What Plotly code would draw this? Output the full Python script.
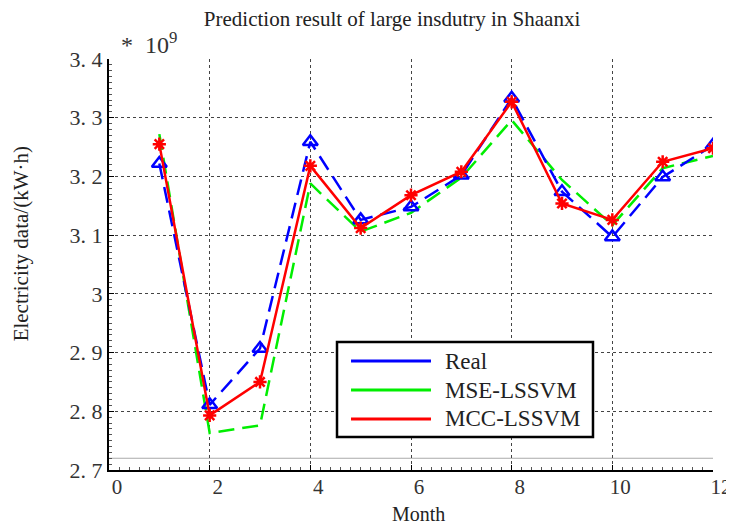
import plotly.graph_objects as go

months = [1, 2, 3, 4, 5, 6, 7, 8, 9, 10, 11, 12]
real = [3.222, 2.811, 2.907, 3.259, 3.126, 3.148, 3.202, 3.333, 3.174, 3.097, 3.199, 3.253]
mse_lssvm = [3.272, 2.763, 2.776, 3.188, 3.106, 3.138, 3.198, 3.296, 3.194, 3.117, 3.214, 3.235]
mcc_lssvm = [3.255, 2.793, 2.850, 3.218, 3.112, 3.168, 3.208, 3.327, 3.154, 3.126, 3.225, 3.248]

series_names = ["Real", "MSE-LSSVM", "MCC-LSSVM"]
series_colors = ["#0000ff", "#00ee00", "#ff0000"]

y_ticks = [2.7, 2.8, 2.9, 3.0, 3.1, 3.2, 3.3, 3.4]
y_ticktext = ["2. 7", "2. 8", "2. 9", "3", "3. 1", "3. 2", "3. 3", "3. 4"]
x_ticks = [0, 2, 4, 6, 8, 10, 12]

FONT = "Liberation Serif"
TXT = "#222222"

fig = go.Figure()
fig.add_trace(go.Scatter(x=months, y=mse_lssvm, mode="lines", name=series_names[1], showlegend=False,
                         line=dict(color=series_colors[1], width=2.5, dash="16px,8px")))
fig.add_trace(go.Scatter(x=months, y=real, mode="lines+markers", name=series_names[0], showlegend=False,
                         line=dict(color=series_colors[0], width=2.5, dash="16px,8px"),
                         marker=dict(symbol="triangle-up-open", size=13, color=series_colors[0],
                                     line=dict(width=2.5, color=series_colors[0]))))
fig.add_trace(go.Scatter(x=months, y=mcc_lssvm, mode="lines+markers", name=series_names[2], showlegend=False,
                         line=dict(color=series_colors[2], width=2.5),
                         marker=dict(symbol="asterisk-open", size=11, color=series_colors[2],
                                     line=dict(width=2.5, color=series_colors[2]))))

shapes = [dict(type="line", xref="paper", yref="y", x0=0, x1=1, y0=2.72, y1=2.72,
               line=dict(color="#aaaaaa", width=1), layer="below")]
annotations = []

# manual legend box (paper coordinates)
shapes.append(dict(type="rect", xref="paper", yref="paper", x0=0.3775, x1=0.8013, y0=0.0803, y1=0.3114,
                   line=dict(color="black", width=2.5), fillcolor="white", layer="above"))
row_y = [0.2652, 0.1946, 0.1241]
for name, col, ry in zip(series_names, series_colors, row_y):
    shapes.append(dict(type="line", xref="paper", yref="paper", x0=0.4007, x1=0.5331, y0=ry, y1=ry,
                       line=dict(color=col, width=3), layer="above"))
    annotations.append(dict(text=name, xref="paper", yref="paper", x=0.553, y=ry, xanchor="left",
                            yanchor="middle", showarrow=False, font=dict(family=FONT, size=23, color=TXT)))

annotations += [
    dict(text="*  10<sup>9</sup>", xref="paper", yref="paper", x=0.016, y=0.998,
         xanchor="left", yanchor="bottom", showarrow=False, font=dict(family=FONT, size=24, color="#333333")),
    dict(text="Electricity data/(kW·h)", xref="paper", yref="paper", x=-0.145, y=0.55, textangle=-90,
         xanchor="center", yanchor="middle", showarrow=False, font=dict(family=FONT, size=21, color=TXT)),
    dict(text="Month", xref="paper", yref="paper", x=0.513, y=-0.1363, xanchor="center", yanchor="bottom",
         showarrow=False, borderpad=0, font=dict(family=FONT, size=20, color=TXT)),
]

# page body has an 8px default margin, so the figure is sized 8px smaller
fig.update_layout(
    width=726, height=518,
    margin=dict(l=101, r=21, t=51, b=56, autoexpand=False),
    paper_bgcolor="white", plot_bgcolor="white",
    font=dict(family=FONT, color=TXT),
    showlegend=False,
    title=dict(text="Prediction result of large insdutry in Shaanxi", x=0.529, xanchor="center",
               y=0.993, yanchor="top", pad=dict(t=0, b=0),
               font=dict(family=FONT, size=21, color=TXT)),
    xaxis=dict(range=[0, 12], tickvals=x_ticks, showline=True, linecolor="black", linewidth=2,
               ticks="inside", ticklen=5, tickcolor="black", automargin=False,
               showgrid=True, gridcolor="#444444", griddash="dot", gridwidth=1,
               zeroline=False, tickfont=dict(family=FONT, size=21, color="#333333"),
               ticklabelshift=8, ticklabelstandoff=-3,
               minor=dict(ticks="inside", ticklen=3, dtick=0.2, tickcolor="#555555", showgrid=False)),
    yaxis=dict(range=[2.7, 3.4], tickvals=y_ticks, ticktext=y_ticktext, showline=True,
               linecolor="black", linewidth=2, ticks="inside", ticklen=5, tickcolor="black",
               automargin=False,
               showgrid=True, gridcolor="#444444", griddash="dot", gridwidth=1,
               zeroline=False, tickfont=dict(family=FONT, size=22, color="#333333"),
               minor=dict(ticks="inside", ticklen=3, dtick=0.01, tickcolor="#555555", showgrid=False)),
    shapes=shapes,
    annotations=annotations,
)

fig.write_html("out.html")
